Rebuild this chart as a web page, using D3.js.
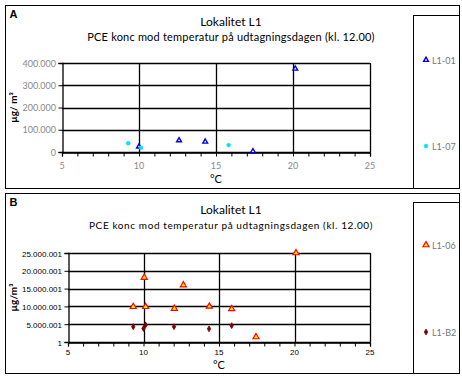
<!DOCTYPE html>
<html>
<head>
<meta charset="utf-8">
<script src="https://cdn.jsdelivr.net/npm/d3@7"></script>
<style>
body { margin: 0; background: #fff; }
svg { display: block; }
</style>
</head>
<body>
<div class="container"></div>
<script>
const width = 462;
const height = 378;

// panel A: L1-01 and L1-07 (temperature in °C, PCE in µg/m³)
const a01Temp = [10.0, 12.6, 14.3, 17.4, 20.15];
const a01Conc = [24000, 52000, 46000, 3000, 374000];
const a07Temp = [9.3, 10.13, 15.82];
const a07Conc = [39000, 19000, 31000];

// panel B: L1-06 and L1-B2
const b06Temp = [9.32, 10.05, 10.14, 12.04, 12.64, 14.36, 15.84, 17.45, 20.1];
const b06Conc = [9900000, 18100000, 9900000, 9400000, 16000000, 10000000, 9300000, 1400000, 25000001];
const bB2Temp = [9.32, 10.0, 10.14, 12.02, 14.34, 15.84];
const bB2Conc = [4300000, 3800000, 4800000, 4300000, 3700000, 4600000];

const xTicks = [5, 10, 15, 20, 25];
const aYTicks = [0, 100000, 200000, 300000, 400000];
const bYTicks = [1, 5000001, 10000001, 15000001, 20000001, 25000001];

const dotFmt = v => d3.format(',')(v).replace(/,/g, '.');

const svg = d3.select('.container')
    .append('svg')
    .attr('width', width)
    .attr('height', height);

function zip(xs, ys) {
    return xs.map((x, i) => ({ x, y: ys[i] }));
}

function panel(opt) {
    const g = svg.append('g');

    // outer frame and legend frame
    g.append('rect').attr('x', opt.box[0]).attr('y', opt.box[1])
        .attr('width', opt.box[2] - opt.box[0]).attr('height', opt.box[3] - opt.box[1])
        .attr('fill', 'none').attr('stroke', '#000').attr('stroke-width', 1);
    g.append('rect').attr('x', 413.5).attr('y', opt.legTop)
        .attr('width', opt.box[2] - 413.5).attr('height', opt.box[3] - opt.legTop)
        .attr('fill', 'none').attr('stroke', '#000').attr('stroke-width', 1);

    g.append('text').attr('x', opt.box[0] + 4).attr('y', opt.box[1] + 12)
        .attr('font-family', 'Liberation Sans, Arial').attr('font-weight', 'bold')
        .attr('font-size', 11).text(opt.letter);

    const x = d3.scaleLinear().domain([5, 25]).range(opt.xr);
    const y = d3.scaleLinear().domain(opt.yd).range(opt.yr);

    // grid
    g.selectAll('.hg').data(opt.yTicks).enter().append('line')
        .attr('x1', opt.xr[0]).attr('x2', opt.xr[1])
        .attr('y1', d => Math.round(y(d)) + 0.5).attr('y2', d => Math.round(y(d)) + 0.5)
        .attr('stroke', '#000').attr('stroke-width', 1.3);
    g.selectAll('.vg').data(xTicks.slice(1)).enter().append('line')
        .attr('x1', d => Math.round(x(d)) + 0.5).attr('x2', d => Math.round(x(d)) + 0.5)
        .attr('y1', opt.yr[0]).attr('y2', opt.yr[1])
        .attr('stroke', '#000').attr('stroke-width', 1.3);

    // axes
    const xAxis = g.append('g')
        .attr('transform', `translate(0,${Math.round(opt.yr[0]) + 0.5})`)
        .call(d3.axisBottom(x).ticks(20).tickSize(4).tickFormat(''));
    xAxis.select('.domain').attr('stroke-width', 1.3);
    g.append('g')
        .attr('transform', `translate(${Math.round(opt.xr[0]) + 0.5},0)`)
        .call(d3.axisLeft(y).tickValues(opt.yTicks).tickSize(4).tickFormat(''))
        .select('.domain').attr('stroke-width', 1.3);

    g.selectAll('.xl').data(xTicks).enter().append('text')
        .attr('x', d => x(d)).attr('y', opt.yr[0] + opt.xlOff)
        .attr('text-anchor', 'middle')
        .attr('font-family', opt.tickFont).attr('font-size', opt.tickSize)
        .attr('fill', opt.tickColor).text(d => d);
    g.selectAll('.yl').data(opt.yTicks).enter().append('text')
        .attr('x', opt.xr[0] - 6).attr('y', d => y(d) + 3.5)
        .attr('text-anchor', 'end')
        .attr('font-family', opt.tickFont).attr('font-size', opt.tickSize)
        .attr('fill', opt.tickColor).text(d => dotFmt(d));

    // titles
    const cx = 231;
    g.append('text').attr('x', cx).attr('y', opt.titleY)
        .attr('text-anchor', 'middle').attr('font-family', 'Lato, sans-serif')
        .attr('font-size', 12).text('Lokalitet L1');
    g.append('text').attr('x', cx).attr('y', opt.titleY + 15)
        .attr('text-anchor', 'middle').attr('font-family', 'Lato, sans-serif')
        .attr('font-size', opt.subSize).attr('letter-spacing', opt.subSpacing)
        .text('PCE konc mod temperatur på udtagningsdagen (kl. 12.00)');

    g.append('text').attr('x', (opt.xr[0] + opt.xr[1]) / 2).attr('y', opt.yr[0] + opt.cOff)
        .attr('text-anchor', 'middle').attr('font-family', 'Lato, sans-serif')
        .attr('font-size', 11).text('°C');
    g.append('text')
        .attr('transform', `translate(${opt.box[0] + 11},${(opt.yr[0] + opt.yr[1]) / 2}) rotate(-90)`)
        .attr('text-anchor', 'middle').attr('font-family', 'Lato, sans-serif')
        .attr('font-size', 10).attr('font-weight', 'bold').text(opt.yLabel);

    // series
    opt.series.forEach(s => {
        const sym = d3.symbol().type(s.symbol).size(s.size);
        g.selectAll(null).data(zip(s.xs, s.ys)).enter().append('path')
            .attr('d', sym)
            .attr('transform', d => `translate(${x(d.x)},${y(d.y)})`)
            .attr('fill', s.fill).attr('stroke', s.stroke).attr('stroke-width', s.sw);
        // legend entry
        g.append('path').attr('d', sym)
            .attr('transform', `translate(${426},${s.legY})`)
            .attr('fill', s.fill).attr('stroke', s.stroke).attr('stroke-width', s.sw);
        g.append('text').attr('x', 432).attr('y', s.legY + 3.5)
            .attr('font-family', 'Lato, sans-serif').attr('font-size', 9)
            .attr('fill', '#777').text(s.name);
    });
}

panel({
    letter: 'A',
    box: [5.5, 5.5, 459.5, 188.5],
    legTop: 15.5,
    xr: [62, 370],
    yd: [0, 400000],
    yr: [152, 63],
    yTicks: aYTicks,
    tickFont: 'Lato, sans-serif',
    tickSize: 9,
    tickColor: '#888',
    xlOff: 17,
    cOff: 31,
    titleY: 26,
    subSize: 11,
    subSpacing: 0.2,
    yLabel: 'µg/ m³',
    series: [
        { name: 'L1-01', xs: a01Temp, ys: a01Conc, symbol: d3.symbolTriangle, size: 10,
          fill: '#fff', stroke: '#0000dd', sw: 1.4, legY: 60 },
        { name: 'L1-07', xs: a07Temp, ys: a07Conc, symbol: d3.symbolCircle, size: 12,
          fill: '#00e5ee', stroke: '#00e5ee', sw: 0.5, legY: 146 }
    ]
});

panel({
    letter: 'B',
    box: [5.5, 193.5, 459.5, 373.5],
    legTop: 202.5,
    xr: [68, 370],
    yd: [0, 25000001],
    yr: [342, 253],
    yTicks: bYTicks,
    tickFont: 'Liberation Sans, Arial',
    tickSize: 8,
    tickColor: '#000',
    xlOff: 13,
    cOff: 27,
    titleY: 214,
    subSize: 10,
    subSpacing: 0.6,
    yLabel: 'µg/m³',
    series: [
        { name: 'L1-06', xs: b06Temp, ys: b06Conc, symbol: d3.symbolTriangle, size: 16,
          fill: '#ffee00', stroke: '#ff0000', sw: 1.2, legY: 245 },
        { name: 'L1-B2', xs: bB2Temp, ys: bB2Conc, symbol: d3.symbolDiamond, size: 10,
          fill: '#800000', stroke: '#800000', sw: 0.8, legY: 332 }
    ]
});
</script>
</body>
</html>
